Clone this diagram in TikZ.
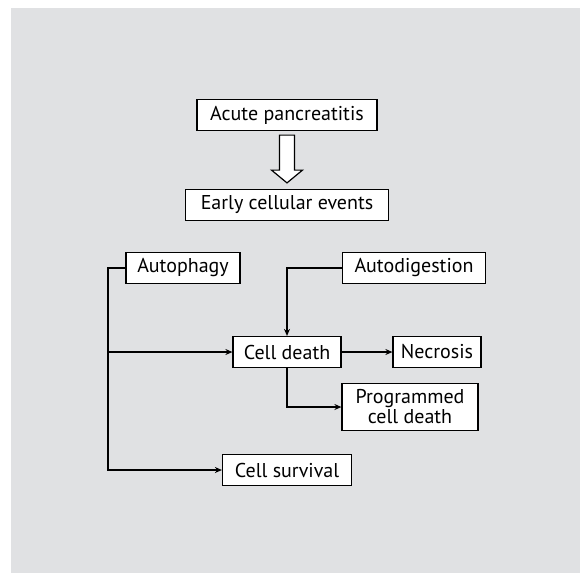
\documentclass[tikz,border=0pt]{standalone}
\usepackage{fontspec}
\setmainfont{PT Sans}
\usetikzlibrary{arrows.meta,calc}
\definecolor{panelgray}{RGB}{224,225,227}
\tikzset{
  box/.style={draw, line width=1.2pt, fill=white, inner xsep=4pt, inner ysep=2pt,
              minimum height=31pt, font=\fontsize{20}{20}\selectfont, align=center},
  link/.style={line width=2pt, -{Stealth[length=7pt,width=6pt]}},
}
\begin{document}
\begin{tikzpicture}[x=1pt, y=-1pt]
  % Hintergrund
  \useasboundingbox (0,0) rectangle (580,573);
  \fill[panelgray] (11,8) rectangle (580,573);
  % Kaesten
  \node[box, minimum width=180pt] (acute) at (287,115) {Acute pancreatitis};
  \node[box, minimum width=203pt] (early) at (287,205) {Early cellular events};
  \node[box, minimum width=114pt] (autophagy) at (183,268) {Autophagy};
  \node[box, minimum width=143pt] (autodig) at (414,268) {Autodigestion};
  \node[box, minimum width=108pt] (death) at (287,352) {Cell death};
  \node[box, minimum width=88pt] (necrosis) at (437,352) {Necrosis};
  \node[box, minimum width=136pt, inner ysep=6pt] (prog) at (410,407) {Programmed\\cell death};
  \node[box, minimum width=129pt] (survival) at (287,470) {Cell survival};
  % Blockpfeil
  \draw[line width=1.2pt, fill=white]
    ($(acute.south)+(-7.5,4)$) -- ($(acute.south)+(7.5,4)$) -- ++(0,35) -- ++(8,0)
    -- ($(early.north -| acute.south)+(0,-6)$) -- ($(acute.south)+(-15.5,39)$)
    -- ++(8,0) -- cycle;
  % Verbindungen
  \coordinate (trunktop) at (108,268);
  \coordinate (trunkbot) at (108,470);
  \draw[link] (autophagy.west) -- (trunktop) -- (trunkbot) -- (survival.west);
  \draw[link] (trunktop |- death.west) -- (death.west);
  \draw[link] (autodig.west) -| (death.north);
  \draw[link] (death.east) -- (necrosis.west);
  \draw[link] (death.south) |- (prog.west);
\end{tikzpicture}
\end{document}
